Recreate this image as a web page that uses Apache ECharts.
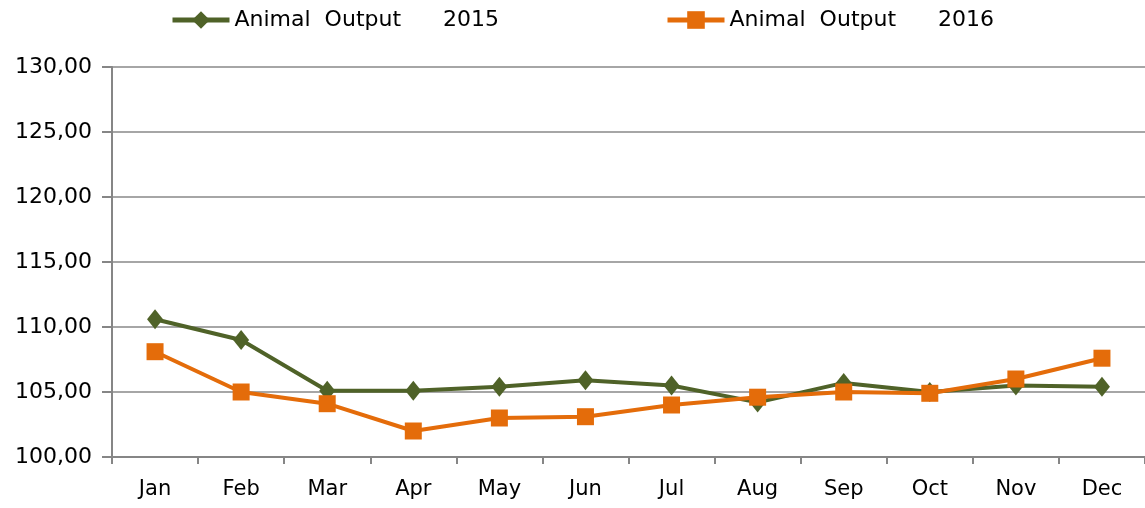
<!DOCTYPE html>
<html>
<head>
<meta charset="utf-8">
<script src="https://cdn.jsdelivr.net/npm/echarts@6/dist/echarts.min.js"></script>
<style>
html, body { margin: 0; padding: 0; background: #fff; }
#main { width: 1145px; height: 508px; }
</style>
</head>
<body>
<div id="main"></div>
<script>
var months = ['Jan', 'Feb', 'Mar', 'Apr', 'May', 'Jun', 'Jul', 'Aug', 'Sep', 'Oct', 'Nov', 'Dec'];
var output2015 = [110.6, 109.0, 105.1, 105.1, 105.4, 105.9, 105.5, 104.2, 105.7, 105.0, 105.5, 105.4];
var output2016 = [108.1, 105.0, 104.1, 102.0, 103.0, 103.1, 104.0, 104.6, 105.0, 104.9, 106.0, 107.6];
var name2015 = 'Animal  Output      2015';
var name2016 = 'Animal  Output      2016';

var myChart = echarts.init(document.getElementById('main'));

var legendText = { fontSize: 22, color: '#000', fontFamily: 'DejaVu Sans' };

var option = {
    animation: false,
    textStyle: { fontFamily: 'DejaVu Sans' },
    legend: [
        {
            top: 4,
            left: 165,
            itemWidth: 57,
            itemHeight: 22,
            itemGap: 0,
            lineStyle: { width: 5 },
            textStyle: legendText,
            data: [name2015]
        },
        {
            top: 4,
            left: 660,
            itemWidth: 57,
            itemHeight: 22,
            itemGap: 0,
            lineStyle: { width: 5 },
            textStyle: legendText,
            data: [name2016]
        }
    ],
    grid: { left: 112, right: 0, top: 67, bottom: 51 },
    xAxis: {
        type: 'category',
        data: months,
        boundaryGap: true,
        axisLine: { lineStyle: { color: '#868686', width: 2 } },
        axisTick: { show: true, length: 7, lineStyle: { color: '#868686', width: 2 } },
        axisLabel: { color: '#000', fontSize: 21, margin: 22 }
    },
    yAxis: {
        type: 'value',
        min: 100,
        max: 130,
        interval: 5,
        axisLine: { show: true, lineStyle: { color: '#868686', width: 2 } },
        axisTick: { show: true, length: 10, lineStyle: { color: '#868686', width: 2 } },
        splitLine: { lineStyle: { color: '#a6a6a6', width: 2 } },
        axisLabel: {
            color: '#000',
            fontSize: 22,
            margin: 20,
            formatter: function (v) { return v.toFixed(2).replace('.', ','); }
        }
    },
    series: [
        {
            name: name2015,
            type: 'line',
            data: output2015,
            symbol: 'diamond',
            symbolSize: [16, 20],
            lineStyle: { color: '#4f6228', width: 4 },
            itemStyle: { color: '#4f6228' },
            z: 2
        },
        {
            name: name2016,
            type: 'line',
            data: output2016,
            symbol: 'rect',
            symbolSize: 17,
            lineStyle: { color: '#e46c0a', width: 4 },
            itemStyle: { color: '#e46c0a' },
            z: 3
        }
    ]
};

myChart.setOption(option);
</script>
</body>
</html>
